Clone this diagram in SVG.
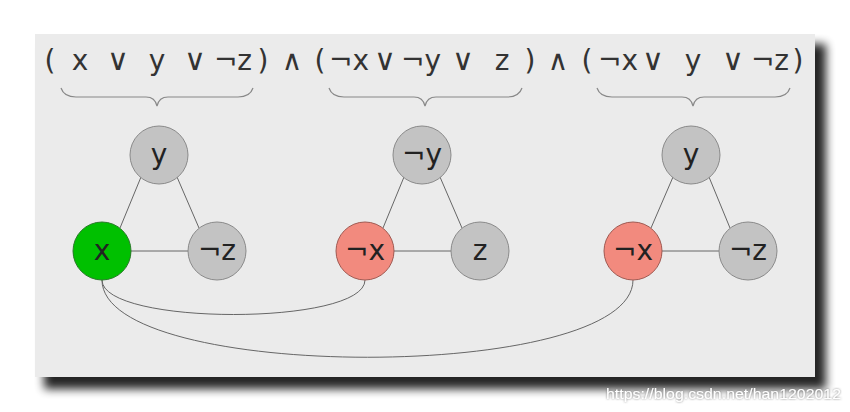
<svg xmlns="http://www.w3.org/2000/svg" width="850" height="412" viewBox="0 0 850 412">
<defs>
<filter id="sh" x="-10%" y="-10%" width="130%" height="130%">
<feGaussianBlur stdDeviation="5"/>
</filter>
<filter id="wm" x="-5%" y="-20%" width="110%" height="140%">
<feDropShadow dx="0" dy="0" stdDeviation="0.8" flood-color="#666" flood-opacity="0.9"/>
</filter>
<style>
.f{font-family:"DejaVu Sans","Noto Sans",sans-serif;font-size:28px;fill:#333;text-anchor:middle}
.o{font-size:30px}
.n{font-family:"DejaVu Sans","Noto Sans",sans-serif;font-size:28px;fill:#222;text-anchor:middle}
.g{fill:#c3c3c3;stroke:#8a8a8a;stroke-width:1}
.gr{fill:#00c000;stroke:#2a7a2a;stroke-width:1}
.rd{fill:#f28a7e;stroke:#a05a52;stroke-width:1}
.e{fill:none;stroke:#666;stroke-width:1}
.b{fill:none;stroke:#888;stroke-width:1.2}
</style>
</defs>
<rect x="0" y="0" width="850" height="412" fill="#fff"/>
<rect x="44" y="44" width="782" height="345" fill="#000" opacity="0.85" filter="url(#sh)"/>
<rect x="35" y="34" width="780" height="343" fill="#ebebeb"/>
<g id="formula">
<text class="f" x="50" y="70">(</text>
<text class="f" x="80" y="70">x</text>
<text class="f o" x="118" y="70">∨</text>
<text class="f" x="157" y="70">y</text>
<text class="f o" x="195" y="70">∨</text>
<text class="f" x="233" y="70">¬z</text>
<text class="f" x="263" y="70">)</text>
<text class="f" x="292" y="70">∧</text>
<text class="f" x="320" y="70">(</text>
<text class="f" x="349" y="70">¬x</text>
<text class="f o" x="385" y="70">∨</text>
<text class="f" x="421" y="70">¬y</text>
<text class="f o" x="463" y="70">∨</text>
<text class="f" x="502" y="70">z</text>
<text class="f" x="530" y="70">)</text>
<text class="f" x="558" y="70">∧</text>
<text class="f" x="587" y="70">(</text>
<text class="f" x="618" y="70">¬x</text>
<text class="f o" x="653" y="70">∨</text>
<text class="f" x="693" y="70">y</text>
<text class="f o" x="733" y="70">∨</text>
<text class="f" x="770" y="70">¬z</text>
<text class="f" x="798" y="70">)</text>
</g>
<g id="braces">
<path class="b" d="M61,88 Q64,97 76,97 L146,97 Q155,97 157,106 Q159,97 168,97 L238,97 Q250,97 253,88"/>
<path class="b" d="M329,88 Q332,97 344,97 L414,97 Q423,97 425,106 Q427,97 436,97 L507,97 Q519,97 522,88"/>
<path class="b" d="M597,88 Q600,97 612,97 L682,97 Q691,97 693,106 Q695,97 704,97 L775,97 Q787,97 790,88"/>
</g>
<g id="connectors">
<line class="e" x1="141" y1="177" x2="120" y2="228"/>
<line class="e" x1="177" y1="177" x2="199" y2="228"/>
<line class="e" x1="131" y1="251" x2="188" y2="251"/>
<line class="e" x1="404" y1="177" x2="383" y2="228"/>
<line class="e" x1="440" y1="177" x2="462" y2="228"/>
<line class="e" x1="394" y1="251" x2="451" y2="251"/>
<line class="e" x1="673" y1="177" x2="651" y2="228"/>
<line class="e" x1="709" y1="177" x2="730" y2="228"/>
<line class="e" x1="662" y1="251" x2="719" y2="251"/>
<path class="e" d="M102,280 C102,326 365,326 365,280"/>
<path class="e" d="M102,280 C102,383 633,383 633,280"/>
</g>
<g id="n1y"><circle class="g" cx="159" cy="155" r="29"/><text class="n" x="159" y="164">y</text></g>
<g id="n1x"><circle class="gr" cx="102" cy="251" r="29"/><text class="n" x="102" y="260">x</text></g>
<g id="n1z"><circle class="g" cx="217" cy="251" r="29"/><text class="n" x="217" y="260">¬z</text></g>
<g id="n2y"><circle class="g" cx="422" cy="155" r="29"/><text class="n" x="422" y="164">¬y</text></g>
<g id="n2x"><circle class="rd" cx="365" cy="251" r="29"/><text class="n" x="365" y="260">¬x</text></g>
<g id="n2z"><circle class="g" cx="480" cy="251" r="29"/><text class="n" x="480" y="260">z</text></g>
<g id="n3y"><circle class="g" cx="691" cy="155" r="29"/><text class="n" x="691" y="164">y</text></g>
<g id="n3x"><circle class="rd" cx="633" cy="251" r="29"/><text class="n" x="633" y="260">¬x</text></g>
<g id="n3z"><circle class="g" cx="748" cy="251" r="29"/><text class="n" x="748" y="260">¬z</text></g>
<text x="841" y="399" font-family="'Liberation Sans Narrow','Liberation Sans',sans-serif" font-size="15" fill="#fff" text-anchor="end" filter="url(#wm)" textLength="235" lengthAdjust="spacingAndGlyphs">https://blog.csdn.net/han1202012</text>
</svg>
